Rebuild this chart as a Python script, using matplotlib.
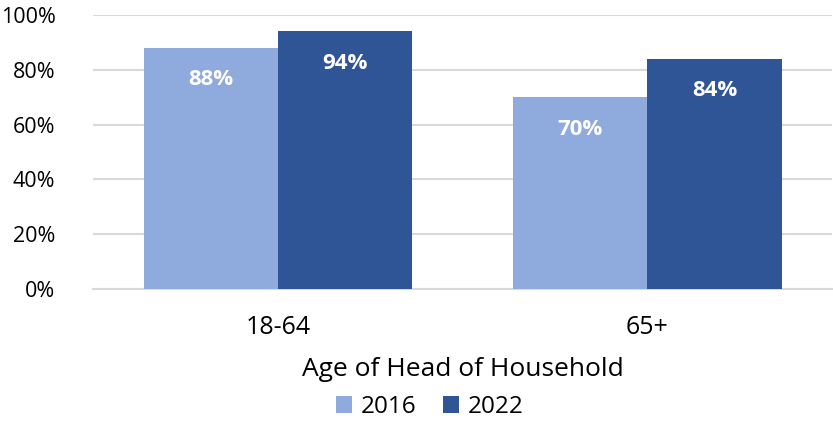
import matplotlib.pyplot as plt
import numpy as np

plt.rcParams['font.family'] = ['Open Sans', 'DejaVu Sans']

categories = ['18-64', '65+']
years = ['2016', '2022']
values_2016 = [88, 70]
values_2022 = [94, 84]
colors = ['#8FAADC', '#2F5597']

fig = plt.figure(figsize=(8.33, 4.21), dpi=100)
ax = fig.add_axes([0.1116, 0.3135, 0.8874, 0.6509])

x = np.arange(len(categories))
w = 0.363
b1 = ax.bar(x - w / 2, values_2016, w, color=colors[0], label=years[0], zorder=3)
b2 = ax.bar(x + w / 2, values_2022, w, color=colors[1], label=years[1], zorder=3)

for bars in (b1, b2):
    for bar in bars:
        h = bar.get_height()
        ax.annotate(f'{h:.0f}%', (bar.get_x() + bar.get_width() / 2, h),
                    xytext=(0, -23), textcoords='offset points',
                    ha='center', va='center', color='white',
                    fontsize=16, fontweight='bold')

ax.set_xlim(-0.5, 1.5)
ax.set_ylim(0, 100)
ax.set_yticks(range(0, 101, 20))
ax.set_yticklabels([f'{v}%' for v in range(0, 101, 20)], fontsize=15.5)
ax.set_xticks(x)
ax.set_xticklabels(categories, fontsize=18)
ax.tick_params(axis='both', length=0)
ax.tick_params(axis='y', pad=27)
ax.tick_params(axis='x', pad=19)
ax.yaxis.grid(True, color='#D9D9D9', linewidth=1.5, zorder=0)
for s in ['top', 'right', 'left']:
    ax.spines[s].set_visible(False)
ax.spines['bottom'].set_color('#D9D9D9')
ax.spines['bottom'].set_linewidth(1.5)

ax.set_xlabel('Age of Head of Household', fontsize=19, labelpad=12)
fig.legend(loc='center', bbox_to_anchor=(0.516, 0.033), ncol=2, frameon=False,
           fontsize=17.5, handlelength=0.65, handleheight=0.65, handletextpad=0.35,
           columnspacing=1.1, borderpad=0)

fig.savefig('out.png', dpi=100)
